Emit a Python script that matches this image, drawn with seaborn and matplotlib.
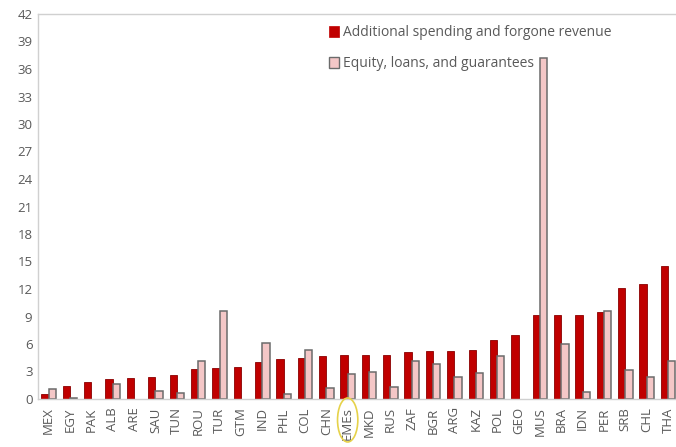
import matplotlib
matplotlib.use("Agg")
import matplotlib.pyplot as plt
from matplotlib.patches import Ellipse, Patch
import seaborn as sns
import pandas as pd

countries = ["MEX", "EGY", "PAK", "ALB", "ARE", "SAU", "TUN", "ROU", "TUR", "GTM",
             "IND", "PHL", "COL", "CHN", "EMEs", "MKD", "RUS", "ZAF", "BGR", "ARG",
             "KAZ", "POL", "GEO", "MUS", "BRA", "IDN", "PER", "SRB", "CHL", "THA"]
spending = [0.6, 1.4, 1.9, 2.2, 2.3, 2.45, 2.65, 3.25, 3.35, 3.45,
            4.0, 4.4, 4.5, 4.65, 4.8, 4.85, 4.85, 5.15, 5.25, 5.25,
            5.4, 6.4, 7.0, 9.2, 9.2, 9.2, 9.5, 12.1, 12.55, 14.5]
equity = [1.1, 0.1, 0.0, 1.6, 0.0, 0.9, 0.7, 4.1, 9.6, 0.0,
          6.1, 0.5, 5.3, 1.2, 2.7, 3.0, 1.35, 4.1, 3.8, 2.4,
          2.8, 4.7, 0.0, 37.2, 6.0, 0.8, 9.55, 3.2, 2.4, 4.1]
series_names = ["Additional spending and forgone revenue", "Equity, loans, and guarantees"]
yticks = list(range(0, 43, 3))

df = pd.DataFrame({"country": countries, series_names[0]: spending, series_names[1]: equity})
long = df.melt(id_vars="country", var_name="series", value_name="value")

sns.set_style("white")
plt.rcParams["font.family"] = ["Open Sans", "DejaVu Sans"]

red = "#C00000"
pink = "#F4C7C7"
gray = "#595959"

fig = plt.figure(figsize=(6.76, 4.47), dpi=100)
ax = fig.add_axes([38 / 676, 48 / 447, 1 - 38 / 676 + 0.004, (399 - 14) / 447])

sns.barplot(data=long, x="country", y="value", hue="series", order=countries,
            hue_order=series_names, palette=[red, pink], width=0.68,
            saturation=1, ax=ax, legend=False)

for bar in ax.containers[0]:
    bar.set_edgecolor("#8B0000")
    bar.set_linewidth(0.6 if bar.get_height() > 0 else 0)
for bar in ax.containers[1]:
    bar.set_edgecolor("#6b6b6b")
    bar.set_linewidth(1.1 if bar.get_height() > 0 else 0)

ax.set_ylim(0, 42)
ax.set_yticks(yticks)
ax.set_yticklabels([str(t) for t in yticks])
ax.set_xlim(-0.5, len(countries) - 0.5)
ax.set_xlabel("")
ax.set_ylabel("")
ax.tick_params(axis="both", length=0, labelsize=9.5, colors=gray, pad=4)
ax.tick_params(axis="x", rotation=90, pad=6)

for side in ["top", "left", "bottom"]:
    ax.spines[side].set_color("#D0D0D0")
    ax.spines[side].set_linewidth(1.0)
ax.spines["right"].set_visible(False)

handles = [Patch(facecolor=red, edgecolor=red, linewidth=0.5),
           Patch(facecolor=pink, edgecolor="#6b6b6b", linewidth=1.0)]
leg = ax.legend(handles, series_names, loc="upper left",
                bbox_to_anchor=((322 - 38) / 638, 0.985), frameon=False,
                fontsize=10, labelspacing=1.15, handlelength=0.75, handleheight=0.75,
                handletextpad=0.3, borderaxespad=0)
for t in leg.get_texts():
    t.set_color(gray)

# yellow highlight around EMEs label
idx = countries.index("EMEs")
trans = matplotlib.transforms.blended_transform_factory(ax.transData, fig.transFigure)
ell = Ellipse((idx, 1 - 420 / 447), width=0.95, height=44 / 447, transform=trans,
              fill=False, edgecolor="#E6D24A", linewidth=1.2, clip_on=False)
fig.add_artist(ell)

fig.savefig("out.png", dpi=100)
